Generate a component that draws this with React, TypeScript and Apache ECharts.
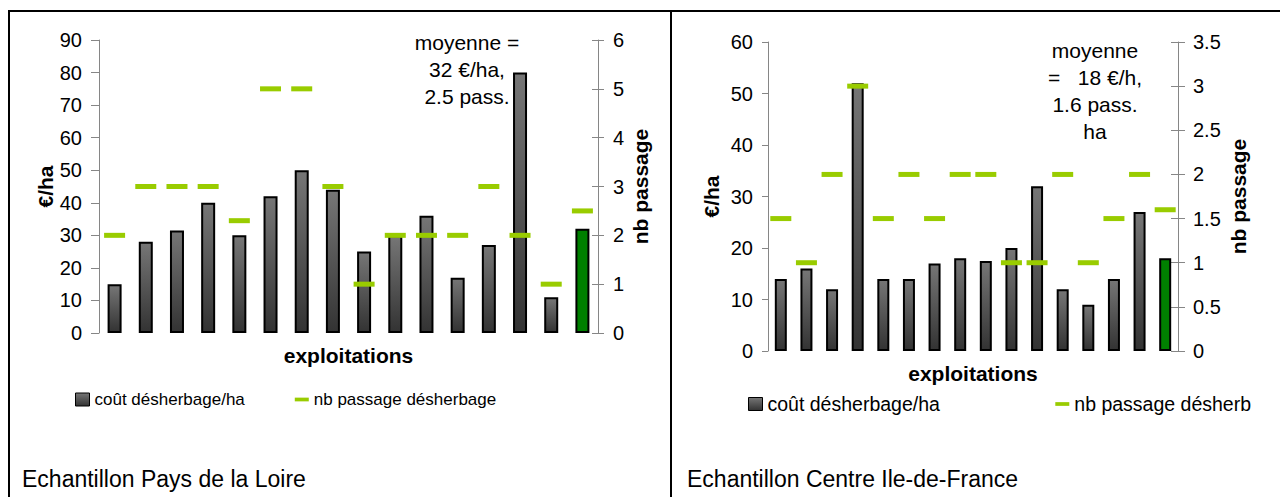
import React, { useEffect, useRef } from "react";
import * as echarts from "echarts";

// Exploitations (the last column is the sample average)
const exploitations = ["1", "2", "3", "4", "5", "6", "7", "8", "9", "10", "11", "12", "13", "14", "15", "moyenne"];

// Pays de la Loire sample
const coutPdl = [15, 28, 31.5, 40, 30, 42, 50, 44, 25, 30, 36, 17, 27, 80, 11, 32];
const passPdl = [2, 3, 3, 3, 2.3, 5, 5, 3, 1, 2, 2, 2, 3, 2, 1, 2.5];
const notePdl = ["moyenne =", "32 €/ha,", "2.5 pass."];

// Centre Ile-de-France sample
const coutCif = [14, 16, 12, 52, 14, 14, 17, 18, 17.5, 20, 32, 12, 9, 14, 27, 18];
const passCif = [1.5, 1, 2, 3, 1.5, 2, 1.5, 2, 2, 1, 1, 2, 1, 1.5, 2, 1.6];
const noteCif = ["moyenne", "=   18 €/h,", "1.6 pass.", "ha"];

const titles = ["Echantillon Pays de la Loire", "Echantillon Centre Ile-de-France"];
const seriesNames = ["coût désherbage/ha", "nb passage désherbage", "nb passage désherb"];

const FONT = "'Liberation Sans', Arial, sans-serif";
const AXIS_GREY = "#868686";
const DASH_GREEN = "#99CC00";

const barFill = new echarts.graphic.LinearGradient(0, 0, 0, 1, [
  { offset: 0, color: "#767676" },
  { offset: 1, color: "#333333" },
]);

function barData(values: number[]) {
  return values.map((v, i) =>
    i === values.length - 1 ? { value: v, itemStyle: { color: "#008000" } } : v
  );
}

function valueAxis(
  grid: number,
  pos: "left" | "right",
  max: number,
  interval: number,
  name: string,
  nameGap: number,
  tickLen: number,
  labelMargin: number
) {
  return {
    type: "value",
    gridIndex: grid,
    position: pos,
    min: 0,
    max,
    interval,
    name,
    nameLocation: "middle",
    nameRotate: 90,
    nameGap,
    nameTextStyle: { fontFamily: FONT, fontSize: 21, fontWeight: "bold", color: "#000" },
    axisLine: { show: true, lineStyle: { color: AXIS_GREY, width: 1 } },
    axisTick: { show: true, length: tickLen, lineStyle: { color: AXIS_GREY } },
    axisLabel: { fontFamily: FONT, fontSize: 20, color: "#000", margin: labelMargin },
    splitLine: { show: false },
  };
}

// second right-hand axis that only draws the inner half of the crossing ticks
function innerTicks(grid: number, max: number, interval: number, len: number) {
  return {
    type: "value",
    gridIndex: grid,
    position: "right",
    min: 0,
    max,
    interval,
    axisLine: { show: false },
    axisTick: { show: true, inside: true, length: len, lineStyle: { color: AXIS_GREY } },
    axisLabel: { show: false },
    splitLine: { show: false },
  };
}

function catAxis(grid: number, nameGap: number) {
  return {
    type: "category",
    gridIndex: grid,
    data: exploitations,
    name: "exploitations",
    nameLocation: "middle",
    nameGap,
    nameTextStyle: { fontFamily: FONT, fontSize: 21, fontWeight: "bold", color: "#000" },
    axisLine: { show: false },
    axisTick: { show: false },
    axisLabel: { show: false },
  };
}

function noteTexts(lines: string[], cx: number, ys: number[]) {
  return lines.map((t, i) => ({
    type: "text",
    x: cx,
    y: ys[i],
    style: {
      text: t,
      fontFamily: FONT,
      fontSize: 21,
      fill: "#000",
      align: "center",
      verticalAlign: "middle",
    },
  }));
}

const dashIcon = "path://M0,0 L15,0 L15,4 L0,4 Z";

export default function App() {
  const ref = useRef<HTMLDivElement>(null);

  useEffect(() => {
    if (!ref.current) return;
    const chart = echarts.init(ref.current, null, { renderer: "svg" });
    chart.setOption({
      animation: false,
      backgroundColor: "#ffffff",
      grid: [
        { left: 99, top: 40, width: 499, height: 293 },
        { left: 768, top: 42, width: 410, height: 309 },
      ],
      xAxis: [catAxis(0, 12), catAxis(1, 12)],
      yAxis: [
        valueAxis(0, "left", 90, 10, "€/ha", 40, 8, 17),
        valueAxis(0, "right", 6, 1, "nb passage", 32, 6, 15),
        innerTicks(0, 6, 1, 6),
        valueAxis(1, "left", 60, 10, "€/ha", 46, 6, 15),
        valueAxis(1, "right", 3.5, 0.5, "nb passage", 50, 7, 15),
        innerTicks(1, 3.5, 0.5, 7),
      ],
      legend: [
        {
          left: 75,
          top: 391,
          padding: 0,
          itemWidth: 14,
          itemHeight: 13,
          itemGap: 50,
          itemStyle: { borderColor: "#000", borderWidth: 1 },
          textStyle: { fontFamily: FONT, fontSize: 17, color: "#000" },
          data: [
            { name: seriesNames[0], icon: "rect" },
            { name: seriesNames[1], icon: dashIcon, itemStyle: { borderWidth: 0 } },
          ],
        },
        {
          left: 748,
          top: 394,
          padding: 0,
          itemWidth: 14,
          itemHeight: 13,
          itemGap: 110,
          itemStyle: { borderColor: "#000", borderWidth: 1 },
          textStyle: { fontFamily: FONT, fontSize: 19.5, color: "#000" },
          data: [
            { name: seriesNames[0] + " ", icon: "rect" },
            { name: seriesNames[2], icon: dashIcon, itemStyle: { borderWidth: 0 } },
          ],
        },
      ],
      series: [
        {
          name: seriesNames[0],
          type: "bar",
          xAxisIndex: 0,
          yAxisIndex: 0,
          data: barData(coutPdl),
          barWidth: 14,
          itemStyle: { color: barFill, borderColor: "#000", borderWidth: 2 },
        },
        {
          name: seriesNames[1],
          type: "line",
          xAxisIndex: 0,
          yAxisIndex: 1,
          data: passPdl,
          symbol: "rect",
          symbolSize: [21, 5],
          lineStyle: { width: 0, opacity: 0 },
          itemStyle: { color: DASH_GREEN },
        },
        {
          name: seriesNames[0] + " ",
          type: "bar",
          xAxisIndex: 1,
          yAxisIndex: 3,
          data: barData(coutCif),
          barWidth: 12,
          itemStyle: { color: barFill, borderColor: "#000", borderWidth: 2 },
        },
        {
          name: seriesNames[2],
          type: "line",
          xAxisIndex: 1,
          yAxisIndex: 4,
          data: passCif,
          symbol: "rect",
          symbolSize: [21, 5],
          lineStyle: { width: 0, opacity: 0 },
          itemStyle: { color: DASH_GREEN },
        },
      ],
      graphic: [
        // panel frame
        { type: "line", shape: { x1: 8, y1: 11, x2: 1280, y2: 11 }, style: { stroke: "#000", lineWidth: 2 } },
        { type: "line", shape: { x1: 9, y1: 10, x2: 9, y2: 497 }, style: { stroke: "#000", lineWidth: 2 } },
        { type: "line", shape: { x1: 671, y1: 10, x2: 671, y2: 497 }, style: { stroke: "#000", lineWidth: 2 } },
        ...noteTexts(notePdl, 467, [42, 69, 96]),
        ...noteTexts(noteCif, 1095, [50, 77, 104, 131]),
        {
          type: "text",
          x: 22,
          y: 479,
          style: { text: titles[0], fontFamily: FONT, fontSize: 23, fill: "#000", verticalAlign: "middle" },
        },
        {
          type: "text",
          x: 687,
          y: 479,
          style: { text: titles[1], fontFamily: FONT, fontSize: 23, fill: "#000", verticalAlign: "middle" },
        },
      ],
    });
    return () => chart.dispose();
  }, []);

  return (
    <div
      ref={ref}
      style={{ position: "absolute", left: 0, top: 0, width: 1281, height: 497, background: "#fff" }}
    />
  );
}
